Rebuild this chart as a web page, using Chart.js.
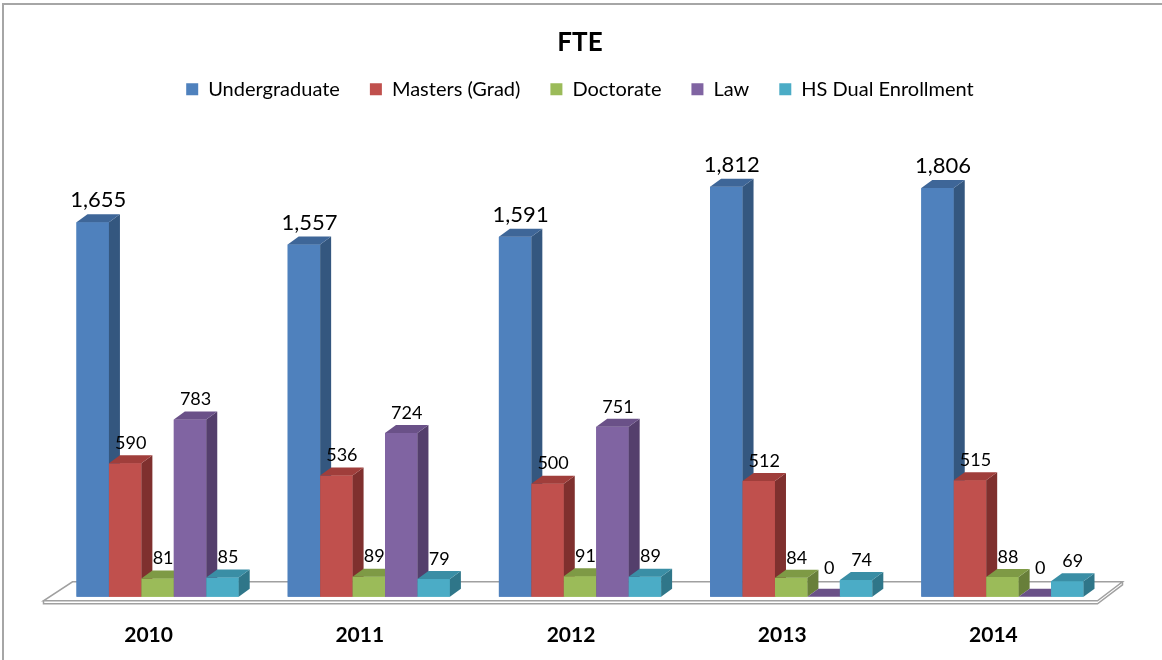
<!DOCTYPE html>
<html>
<head>
<meta charset="utf-8">
<script src="https://cdn.jsdelivr.net/npm/chart.js@4.4.0/dist/chart.umd.min.js"></script>
<style>
  html, body { margin: 0; padding: 0; background: #fff; overflow: hidden; }
  #wrap { position: relative; width: 1162px; height: 660px; }
  #frame { position: absolute; left: 2px; top: 3px; width: 1200px; height: 700px;
           border-top: 2px solid #a6a6a6; border-left: 2px solid #a6a6a6; }
  canvas { position: absolute; left: 0; top: 0; }
</style>
</head>
<body>
<div id="wrap">
  <div id="frame"></div>
  <canvas id="myChart" width="1162" height="660"></canvas>
</div>
<script>
"use strict";

const years = ["2010", "2011", "2012", "2013", "2014"];
const seriesNames = ["Undergraduate", "Masters (Grad)", "Doctorate", "Law", "HS Dual Enrollment"];
const undergraduate = [1655, 1557, 1591, 1812, 1806];
const masters = [590, 536, 500, 512, 515];
const doctorate = [81, 89, 91, 84, 88];
const law = [783, 724, 751, 0, 0];
const hsDual = [85, 79, 89, 74, 69];

const frontColors = ["#4f81bd", "#c0504d", "#9bbb59", "#8064a2", "#4bacc6"];
const sideColors = ["#34577f", "#7f302e", "#687f3a", "#543f6c", "#2f7689"];
const topColors = ["#3e6698", "#a03e3b", "#7e9a45", "#6a5188", "#3a8ea5"];

const depthX = 11;
const depthY = 8;
const fontFamily = "Lato, 'Open Sans', sans-serif";

// push the plot down a bit below the legend
const legendMargin = {
  id: "legendMargin",
  beforeInit(chart) {
    const fit = chart.legend.fit;
    chart.legend.fit = function () {
      fit.bind(chart.legend)();
      this.height += 35;
    };
  },
};

const floor = {
  id: "floor",
  beforeDatasetsDraw(chart) {
    const { ctx, chartArea: a } = chart;
    const y0 = chart.scales.y.getPixelForValue(0);
    ctx.save();
    ctx.strokeStyle = "#a0a0a0";
    ctx.lineWidth = 1.5;
    ctx.fillStyle = "#ffffff";
    // top surface of the slab
    ctx.beginPath();
    ctx.moveTo(a.left - 8.5, y0 + 4);
    ctx.lineTo(a.right - 10.5, y0 + 4);
    ctx.lineTo(a.right + 14.5, y0 - 15);
    ctx.lineTo(a.left + 20.5, y0 - 15);
    ctx.closePath();
    ctx.fill();
    ctx.stroke();
    // front edge thickness
    ctx.beginPath();
    ctx.moveTo(a.left - 8.5, y0 + 4);
    ctx.lineTo(a.left - 8.5, y0 + 7);
    ctx.lineTo(a.right - 10.5, y0 + 7);
    ctx.lineTo(a.right + 14.5, y0 - 12);
    ctx.lineTo(a.right + 14.5, y0 - 15);
    ctx.stroke();
    ctx.restore();
  },
};

// repaint each bar as a box (front, side, top), series by series left to right
const boxes3d = {
  id: "boxes3d",
  afterDatasetsDraw(chart) {
    const ctx = chart.ctx;
    ctx.save();
    chart.data.datasets.forEach((ds, i) => {
      chart.getDatasetMeta(i).data.forEach((bar) => {
        const left = bar.x - bar.width / 2;
        const right = bar.x + bar.width / 2;
        const top = bar.y;
        const bottom = bar.base;
        ctx.fillStyle = frontColors[i];
        ctx.fillRect(left, top, right - left, bottom - top);
        ctx.fillStyle = sideColors[i];
        ctx.beginPath();
        ctx.moveTo(right, top);
        ctx.lineTo(right + depthX, top - depthY);
        ctx.lineTo(right + depthX, bottom - depthY);
        ctx.lineTo(right, bottom);
        ctx.closePath();
        ctx.fill();
        ctx.fillStyle = topColors[i];
        ctx.beginPath();
        ctx.moveTo(left, top);
        ctx.lineTo(left + depthX, top - depthY);
        ctx.lineTo(right + depthX, top - depthY);
        ctx.lineTo(right, top);
        ctx.closePath();
        ctx.fill();
      });
    });
    ctx.restore();
  },
};

const valueLabels = {
  id: "valueLabels",
  afterDatasetsDraw(chart) {
    const ctx = chart.ctx;
    ctx.save();
    ctx.fillStyle = "#000";
    ctx.textAlign = "center";
    ctx.textBaseline = "bottom";
    chart.data.datasets.forEach((ds, i) => {
      ctx.font = (i === 0 ? "22px " : "18px ") + fontFamily;
      chart.getDatasetMeta(i).data.forEach((bar, j) => {
        const v = ds.data[j];
        const gap = v === 0 ? 12 : 3;
        ctx.fillText(v.toLocaleString("en-US"), bar.x + depthX / 2, bar.y - depthY - gap);
      });
    });
    ctx.restore();
  },
};

const allSeries = [undergraduate, masters, doctorate, law, hsDual];

const data = {
  labels: years,
  datasets: allSeries.map((values, i) => ({
    label: seriesNames[i],
    data: values,
    backgroundColor: frontColors[i],
    borderWidth: 0,
    categoryPercentage: 0.768,
    barPercentage: 1.0,
  })),
};

const config = {
  type: "bar",
  data: data,
  options: {
    responsive: false,
    animation: false,
    layout: {
      padding: { top: 10, left: 52, right: 54, bottom: -14 },
    },
    scales: {
      x: {
        grid: { display: false, drawTicks: false },
        border: { display: false },
        ticks: {
          color: "#000",
          padding: 26,
          labelOffset: -9,
          font: { family: fontFamily, size: 21, weight: "bold" },
        },
      },
      y: {
        display: false,
        min: 0,
        max: 2000,
      },
    },
    plugins: {
      title: {
        display: true,
        text: "FTE",
        color: "#000",
        padding: { top: 17, bottom: -9 },
        font: { family: fontFamily, size: 26, weight: "bold" },
      },
      legend: {
        display: true,
        labels: {
          color: "#000",
          boxWidth: 12,
          boxHeight: 12,
          padding: 30,
          font: { family: fontFamily, size: 20 },
        },
      },
      tooltip: { enabled: false },
    },
  },
  plugins: [legendMargin, floor, boxes3d, valueLabels],
};

const myChart = new Chart(document.getElementById("myChart"), config);
</script>
</body>
</html>
